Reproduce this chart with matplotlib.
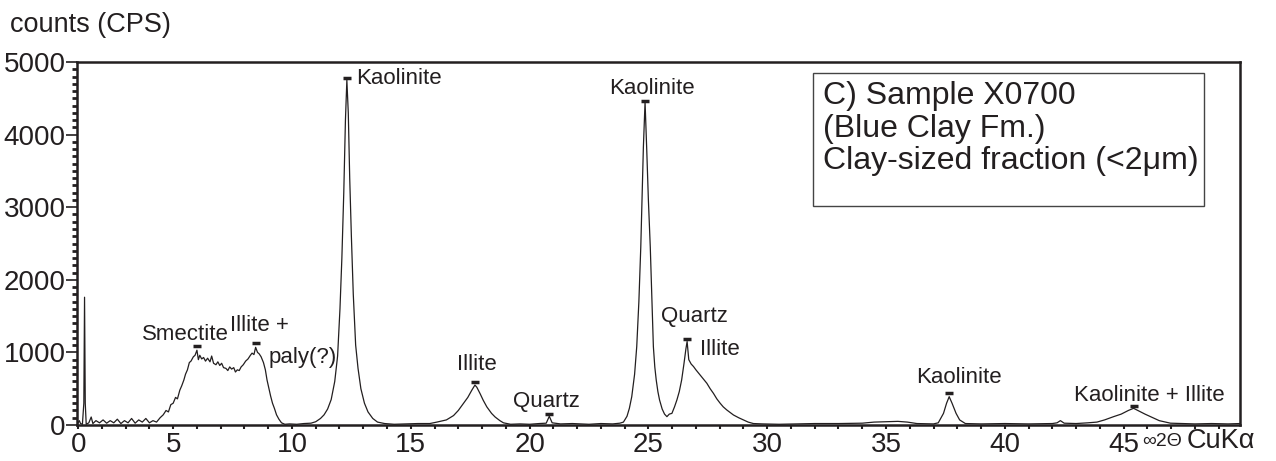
import matplotlib
matplotlib.use("Agg")
import matplotlib.pyplot as plt
from matplotlib.patches import Rectangle
from matplotlib.ticker import MultipleLocator

plt.rcParams["font.family"] = ["Liberation Sans", "DejaVu Sans"]

# diffractogram: 2-theta (deg) and counts (CPS)
two_theta = [
    0.98, 1.05, 1.10, 1.18, 1.24, 1.27, 1.30, 1.34, 1.45, 1.55, 1.62, 1.75, 1.90,
    2.05, 2.20, 2.35, 2.50, 2.65, 2.80, 2.95, 3.10, 3.25, 3.40, 3.55, 3.70, 3.85,
    4.00, 4.15, 4.30, 4.45, 4.58, 4.70, 4.80, 4.90, 5.00, 5.10, 5.18, 5.28, 5.36,
    5.45, 5.52, 5.60, 5.68, 5.75, 5.85, 5.92, 6.00, 6.06, 6.12, 6.20, 6.28, 6.36,
    6.45, 6.55, 6.62, 6.70, 6.80, 6.88, 6.96, 7.04, 7.12, 7.22, 7.30, 7.38, 7.46,
    7.55, 7.62, 7.70, 7.78, 7.86, 7.95, 8.05, 8.15, 8.25, 8.32, 8.40, 8.47, 8.55,
    8.62, 8.70, 8.80, 8.88, 8.95, 9.02, 9.10, 9.18, 9.26, 9.35, 9.45, 9.56, 9.70,
    9.90, 10.2, 10.5, 10.8, 11.0, 11.2, 11.35, 11.5, 11.65, 11.8, 11.92, 12.02,
    12.1, 12.18, 12.25, 12.31, 12.37, 12.43, 12.5, 12.58, 12.68, 12.78, 12.9,
    13.05, 13.2, 13.4, 13.6, 13.9, 14.3, 14.8, 15.3, 15.8, 16.1, 16.5, 16.8, 17.0,
    17.2, 17.4, 17.57, 17.7, 17.78, 17.92, 18.05, 18.2, 18.4, 18.55, 18.75, 18.9,
    19.2, 19.6, 20.0, 20.4, 20.7, 20.83, 20.95, 21.3, 21.8, 22.5, 23.0, 23.5,
    23.8, 23.95, 24.1, 24.2, 24.3, 24.42, 24.51, 24.6, 24.68, 24.74, 24.79, 24.86,
    24.93, 25.0, 25.08, 25.15, 25.21, 25.27, 25.33, 25.4, 25.47, 25.58, 25.68,
    25.78, 25.88, 25.99, 26.1, 26.2, 26.3, 26.4, 26.5, 26.58, 26.63, 26.7, 26.8,
    26.9, 27.0, 27.1, 27.18, 27.3, 27.46, 27.6, 27.74, 27.88, 28.02, 28.15, 28.3,
    28.45, 28.58, 28.8, 29.0, 29.2, 29.42, 29.8, 30.5, 31.2, 32.0, 33.0, 34.0,
    34.5, 35.0, 35.5, 35.9, 36.3, 37.0, 37.2, 37.42, 37.55, 37.66, 37.78, 37.95,
    38.1, 38.34, 39.0, 40.0, 41.0, 42.0, 42.2, 42.34, 42.5, 43.0, 43.5, 43.88,
    44.2, 44.58, 44.9, 45.2, 45.42, 45.6, 45.9, 46.13, 46.5, 46.97, 47.5, 48.0,
    48.7, 49.4, 49.9,
]
counts = [
    20, 60, 20, 10, 300, 1760, 300, 10, 30, 110, 20, 60, 30,
    70, 25, 60, 30, 80, 20, 60, 30, 90, 25, 70, 40, 90,
    30, 60, 40, 100, 140, 200, 180, 280, 300, 380, 360, 480, 540,
    620, 700, 760, 860, 880, 940, 960, 1030, 900, 960, 910, 930, 880,
    920, 870, 950, 850, 830, 870, 820, 850, 790, 780, 750, 800, 770,
    790, 730, 760, 750, 800, 830, 880, 910, 960, 990, 970, 1070, 1000,
    980, 940, 860, 760, 620, 520, 400, 300, 230, 140, 80, 30, 10,
    15, 10, 20, 25, 45, 90, 140, 220, 350, 600, 950, 1600,
    2300, 3200, 4200, 4750, 4300, 3400, 2600, 1800, 1100, 780, 500,
    300, 180, 90, 40, 20, 10, 15, 20, 20, 40, 70, 130, 200,
    290, 380, 480, 550, 520, 430, 340, 250, 160, 110, 60, 30,
    10, 15, 10, 20, 25, 120, 30, 15, 20, 10, 20, 15,
    25, 40, 120, 230, 390, 700, 1080, 1700, 2450, 3200, 3830, 4450,
    3800, 3100, 2450, 1700, 1080, 800, 620, 460, 345, 220, 150,
    115, 150, 160, 250, 345, 460, 620, 850, 1050, 1150, 900, 840,
    805, 760, 720, 690, 640, 575, 500, 435, 360, 300, 250, 207,
    170, 138, 100, 70, 40, 20, 15, 10, 15, 20, 20, 25,
    40, 45, 50, 40, 20, 15, 30, 160, 300, 390, 300, 160,
    70, 20, 15, 20, 15, 20, 30, 60, 25, 20, 30, 40,
    70, 115, 150, 200, 230, 200, 150, 115, 60, 25, 20, 15,
    20, 15, 20,
]

# peak annotations: marker position and label
peak_x = [6.0, 8.47, 12.3, 17.7, 20.83, 24.86, 26.62, 37.66, 45.42]
peak_y = [1088, 1125, 4780, 588, 150, 4467, 1180, 437, 262]
labels = ["Smectite", "Illite +", "paly(?)", "Kaolinite", "Illite", "Quartz",
          "Kaolinite", "Quartz", "Illite", "Kaolinite", "Kaolinite + Illite"]
label_x = [5.53, 8.65, 10.44, 12.72, 17.79, 20.72, 25.14, 26.93, 28.02, 38.06, 46.08]
label_y = [1240, 1365, 935, 4766, 840, 330, 4638, 1490, 1045, 650, 410]
label_ha = ["center", "center", "center", "left", "center", "center",
            "center", "center", "center", "center", "center"]

ink = "#231f20"

fig = plt.figure(figsize=(12.76, 4.61), dpi=100)
ax = fig.add_axes([0.0603, 0.0781, 0.9115, 0.7874])

ax.plot(two_theta, counts, color=ink, lw=0.9)
ax.plot(peak_x, peak_y, ls="none", marker="_", ms=6, mew=2.5, color=ink)

for t, x, y, ha in zip(labels, label_x, label_y, label_ha):
    ax.text(x, y, t, ha=ha, va="center", fontsize=16, color=ink)

# sample box
ax.add_patch(Rectangle((0.6329, 0.6033), 0.3361, 0.3664, transform=ax.transAxes,
                       fill=True, fc="white", ec="#444444", lw=1, zorder=3))
ax.text(0.6415, 0.948,
        "C) Sample X0700\n(Blue Clay Fm.)\nClay-sized fraction (<2\u03bcm)",
        transform=ax.transAxes, ha="left", va="top", fontsize=23, color=ink,
        linespacing=1.12, zorder=4)

ax.set_xlim(0.95, 49.9)
ax.set_ylim(0, 5000)

# first tick sits at the left edge and is labelled 0 in the original
ax.set_xticks([1, 5, 10, 15, 20, 25, 30, 35, 40, 45])
ax.set_xticklabels(["0", "5", "10", "15", "20", "25", "30", "35", "40", "45"])
ax.xaxis.set_minor_locator(MultipleLocator(1))
ax.set_yticks([0, 1000, 2000, 3000, 4000, 5000])
ax.yaxis.set_minor_locator(MultipleLocator(100))

ax.tick_params(axis="x", which="major", direction="out", length=3, width=1.5,
               labelsize=20, pad=2, colors=ink)
ax.tick_params(axis="x", which="minor", direction="out", length=3, width=1.5,
               colors=ink)
ax.tick_params(axis="y", which="major", direction="out", length=8, width=1.2,
               labelsize=20, pad=0, colors=ink)
ax.tick_params(axis="y", which="minor", direction="out", length=3.6, width=2,
               colors=ink)

for s in ax.spines.values():
    s.set_linewidth(1.8)
    s.set_color(ink)

fig.text(10 / 1276, 1 - 25 / 461, "counts (CPS)", ha="left", va="center",
         fontsize=19.5, color=ink)
fig.text(1142 / 1276, 1 - 441 / 461, "\u221e2\u0398", ha="left", va="center",
         fontsize=14, color=ink)
fig.text(1187 / 1276, 1 - 441 / 461, "CuK\u03b1", ha="left", va="center",
         fontsize=19.5, color=ink)

fig.savefig("out.png", dpi=100)
